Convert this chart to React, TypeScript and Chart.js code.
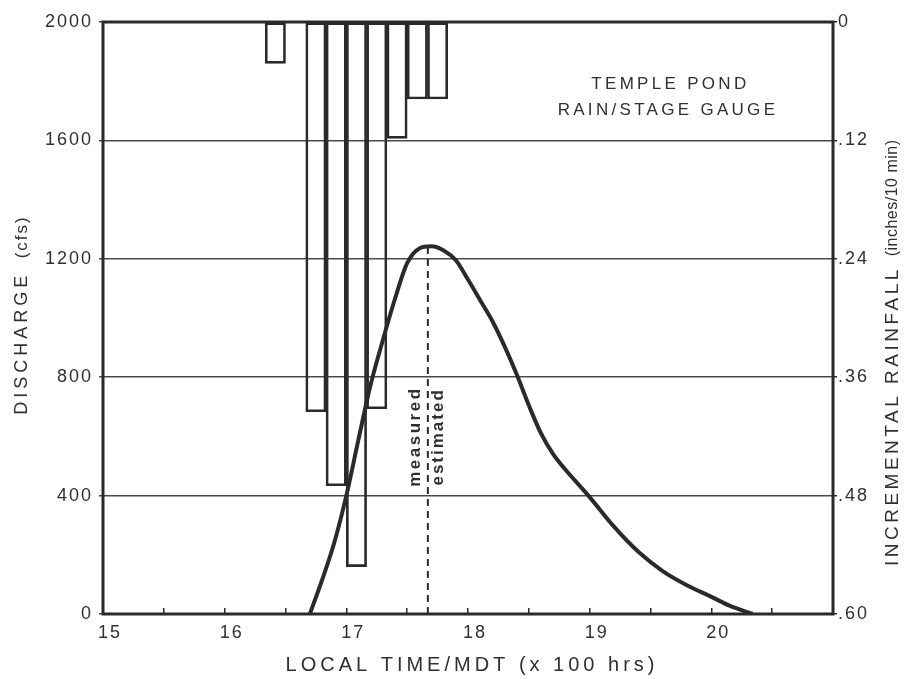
import React, { useEffect, useRef } from 'react';
import { Chart, registerables } from 'chart.js';

Chart.register(...registerables);

// ---- data ----
const timeTickLabels = [15, 16, 17, 18, 19, 20];
const dischargeTicks = [0, 400, 800, 1200, 1600, 2000];
const rainTicks = [0, 0.12, 0.24, 0.36, 0.48, 0.6];

// 10-minute rainfall intervals (start time, local MDT) and depth (inches)
const rainIntervalStart = ['16:20', '16:30', '16:40', '16:50', '17:00', '17:10', '17:20', '17:30', '17:40'];
const rainfall = [0.042, 0, 0.395, 0.47, 0.552, 0.392, 0.118, 0.078, 0.078];

// hydrograph (time in x100 hrs, discharge cfs)
const dischargeTime = [16.7, 16.8, 16.9, 17.0, 17.1, 17.2, 17.3, 17.4, 17.5, 17.6, 17.7, 17.8, 17.9, 18.0, 18.1, 18.2, 18.3, 18.4, 18.5, 18.6, 18.7, 18.8, 19.0, 19.2, 19.4, 19.6, 19.8, 20.0, 20.15, 20.34];
const discharge = [0, 114, 240, 400, 590, 775, 925, 1065, 1185, 1235, 1242, 1228, 1195, 1130, 1060, 990, 905, 810, 705, 610, 540, 488, 395, 295, 210, 145, 97, 58, 28, 0];

// measured / estimated split
const splitTime = 17.67;
const splitDischarge = [0, 1242];

const gaugeTitle = ['TEMPLE POND', 'RAIN/STAGE GAUGE'];
const xTitle = 'LOCAL TIME/MDT (x 100 hrs)';

const INK = '#2a2a2a';
const GRID = '#4a4a4a';
const TEXT = '#303030';
const FAMILY = '"Liberation Sans", Arial, Helvetica, sans-serif';
const INTERVAL = 10 / 60;

const toHours = (s: string) => {
  const [h, m] = s.split(':').map(Number);
  return h + m / 60;
};

type Run = { text: string; font: string; spacing: number };

function drawRuns(ctx: CanvasRenderingContext2D, runs: Run[], cx: number, cy: number, rot: number) {
  ctx.save();
  ctx.translate(cx, cy);
  ctx.rotate(rot);
  ctx.fillStyle = TEXT;
  ctx.textBaseline = 'middle';
  ctx.textAlign = 'left';
  const widths = runs.map((r) => {
    ctx.font = r.font;
    (ctx as any).letterSpacing = r.spacing + 'px';
    return ctx.measureText(r.text).width;
  });
  const total = widths.reduce((a, b) => a + b, 0) - runs[runs.length - 1].spacing;
  let x = -total / 2;
  runs.forEach((r, i) => {
    ctx.font = r.font;
    (ctx as any).letterSpacing = r.spacing + 'px';
    ctx.fillText(r.text, x, 0);
    x += widths[i];
  });
  ctx.restore();
}

const decor = {
  id: 'decor',
  beforeDraw(chart: any) {
    (chart.ctx as any).letterSpacing = '2px';
  },
  afterDatasetsDraw(chart: any) {
    const { ctx, chartArea: a, scales } = chart;
    ctx.save();
    (ctx as any).letterSpacing = '0px';
    ctx.strokeStyle = INK;
    ctx.lineWidth = 3;
    ctx.strokeRect(a.left, a.top, a.right - a.left, a.bottom - a.top);
    ctx.restore();

    const xs = scales.x;
    const ys = scales.y;
    // gauge title
    drawRuns(ctx, [{ text: gaugeTitle[0], font: `17px ${FAMILY}`, spacing: 3.3 }], xs.getPixelForValue(19.65), ys.getPixelForValue(1788), 0);
    drawRuns(ctx, [{ text: gaugeTitle[1], font: `17px ${FAMILY}`, spacing: 3.3 }], xs.getPixelForValue(19.63), ys.getPixelForValue(1703), 0);
    // measured / estimated
    const sx = xs.getPixelForValue(splitTime);
    const sy = ys.getPixelForValue(595);
    drawRuns(ctx, [{ text: 'measured', font: `bold 17px ${FAMILY}`, spacing: 2.5 }], sx - 13, sy, -Math.PI / 2);
    drawRuns(ctx, [{ text: 'estimated', font: `bold 17px ${FAMILY}`, spacing: 2 }], sx + 10, sy, -Math.PI / 2);
  },
  afterDraw(chart: any) {
    const { ctx, chartArea: a } = chart;
    const midX = (a.left + a.right) / 2;
    const midY = (a.top + a.bottom) / 2;
    drawRuns(ctx, [{ text: xTitle, font: `20px ${FAMILY}`, spacing: 4 }], midX + 2, 665, 0);
    drawRuns(
      ctx,
      [
        { text: 'DISCHARGE', font: `18px ${FAMILY}`, spacing: 4 },
        { text: '  (cfs)', font: `17px ${FAMILY}`, spacing: 2 },
      ],
      22,
      midY - 2,
      -Math.PI / 2
    );
    drawRuns(
      ctx,
      [
        { text: 'INCREMENTAL RAINFALL', font: `19px ${FAMILY}`, spacing: 3.5 },
        { text: '  (inches/10 min)', font: `16px ${FAMILY}`, spacing: 0.5 },
      ],
      893,
      midY + 35,
      -Math.PI / 2
    );
  },
};

export default function App() {
  const ref = useRef<HTMLCanvasElement | null>(null);
  useEffect(() => {
    if (!ref.current) return;
    const tickFont = { family: FAMILY, size: 18 };
    const chart = new Chart(ref.current, {
      type: 'bar',
      data: {
        datasets: [
          {
            type: 'line',
            data: dischargeTime.map((t, i) => ({ x: t, y: discharge[i] })),
            xAxisID: 'x',
            yAxisID: 'y',
            borderColor: INK,
            borderWidth: 4,
            pointRadius: 0,
            fill: false,
            cubicInterpolationMode: 'monotone',
            order: 1,
          } as any,
          {
            type: 'line',
            data: splitDischarge.map((q) => ({ x: splitTime, y: q })),
            xAxisID: 'x',
            yAxisID: 'y',
            borderColor: INK,
            borderWidth: 2,
            borderDash: [7, 5],
            pointRadius: 0,
            fill: false,
            order: 1,
          } as any,
          {
            type: 'bar',
            data: rainfall.map((v, i) => ({ x: toHours(rainIntervalStart[i]) + INTERVAL / 2, y: v })),
            xAxisID: 'x',
            yAxisID: 'y2',
            backgroundColor: 'rgba(0,0,0,0)',
            borderColor: INK,
            borderWidth: 2,
            borderSkipped: false,
            barPercentage: 1,
            categoryPercentage: 1,
            order: 2,
          } as any,
        ],
      },
      options: {
        responsive: false,
        animation: false,
        layout: { padding: { top: 22, left: 0, right: 0, bottom: 0 } },
        plugins: { legend: { display: false }, tooltip: { enabled: false } },
        scales: {
          x: {
            type: 'linear',
            position: 'bottom',
            min: 15,
            max: 21,
            offset: false,
            grid: { drawOnChartArea: false, offset: false, tickLength: -6, color: INK, lineWidth: 1.5 },
            border: { display: false },
            ticks: {
              stepSize: 0.5,
              autoSkip: false,
              maxRotation: 0,
              padding: 14,
              labelOffset: 7,
              color: TEXT,
              font: tickFont,
              callback: (v: any) => (timeTickLabels.includes(Number(v)) ? String(v) : ''),
            },
            afterFit: (s: any) => {
              s.height = 65;
            },
          },
          y: {
            position: 'left',
            min: 0,
            max: 2000,
            grid: { color: GRID, lineWidth: 1.5, tickLength: 4 },
            border: { display: false },
            afterBuildTicks: (s: any) => {
              s.ticks = dischargeTicks.map((v) => ({ value: v }));
            },
            ticks: { padding: 6, color: TEXT, font: tickFont, callback: (v: any) => String(v) },
            afterFit: (s: any) => {
              s.width = 103;
            },
          },
          y2: {
            position: 'right',
            min: 0,
            max: 0.6,
            reverse: true,
            grid: { drawOnChartArea: false, color: INK, lineWidth: 1.5, tickLength: 4 },
            border: { display: false },
            afterBuildTicks: (s: any) => {
              s.ticks = rainTicks.map((v) => ({ value: v }));
            },
            ticks: {
              padding: 1,
              color: TEXT,
              font: tickFont,
              callback: (v: any) => (Number(v) === 0 ? '0' : Number(v).toFixed(2).replace(/^0/, '')),
            },
            afterFit: (s: any) => {
              s.width = 78;
            },
          },
        },
      } as any,
      plugins: [decor],
    });
    return () => chart.destroy();
  }, []);

  return (
    <div style={{ position: 'absolute', left: 0, top: 0, width: 911, height: 679, background: '#fff' }}>
      <canvas ref={ref} width={911} height={679} style={{ display: 'block' }} />
    </div>
  );
}
